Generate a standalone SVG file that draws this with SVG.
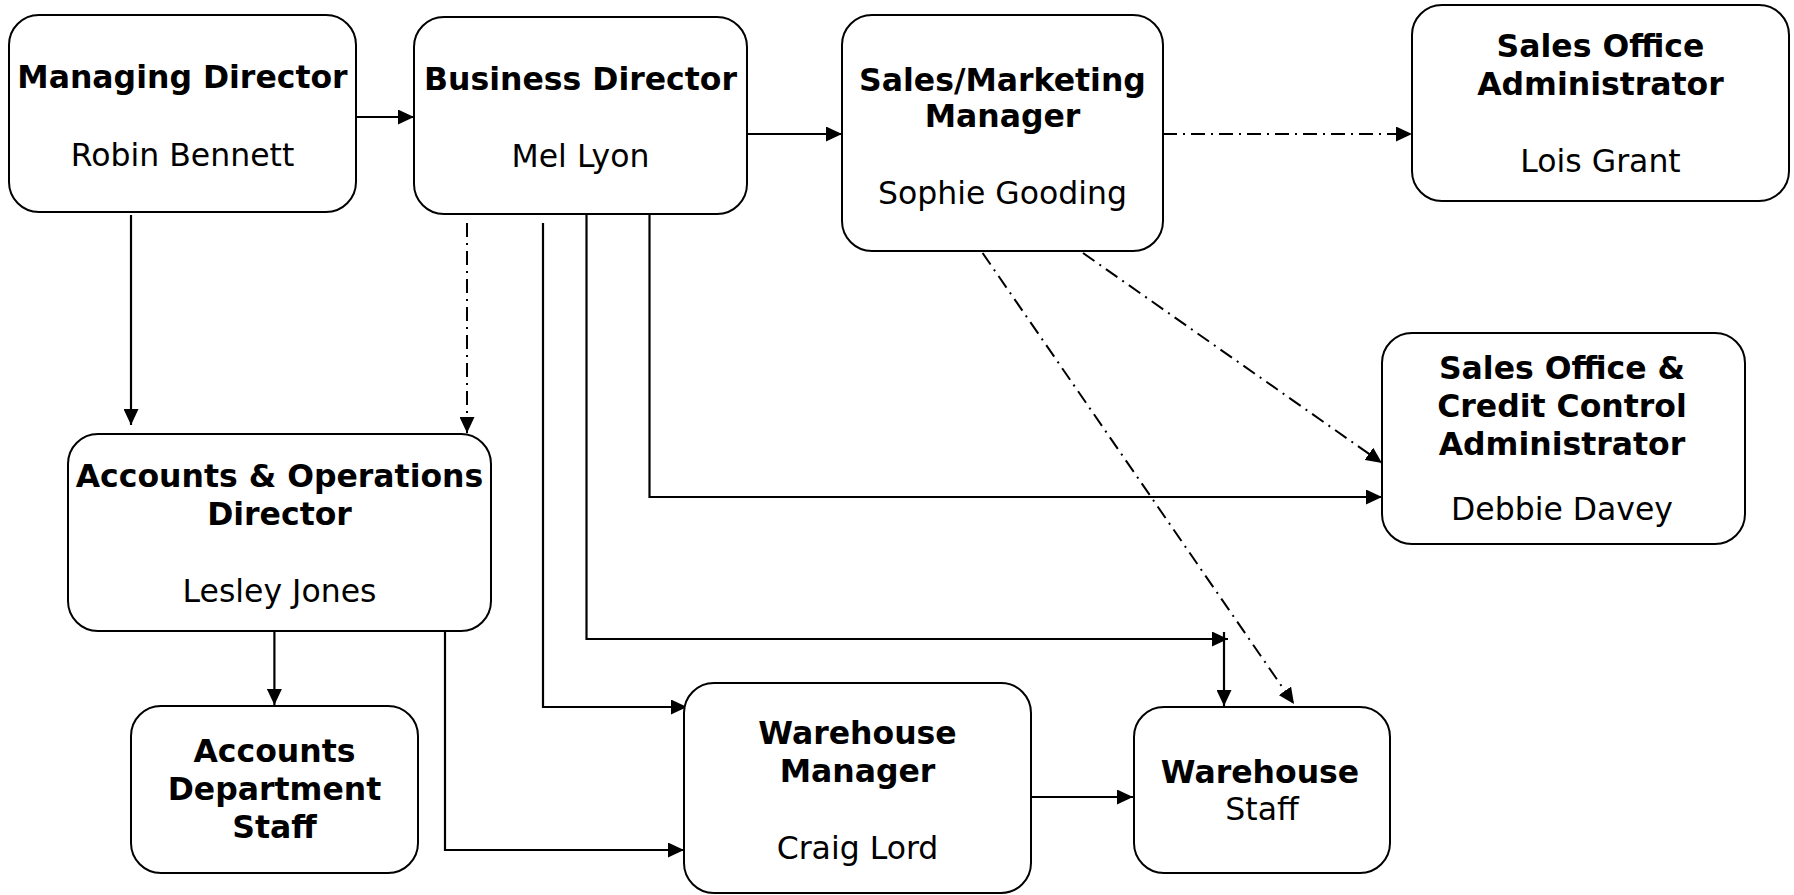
<svg xmlns="http://www.w3.org/2000/svg" width="1794" height="895" viewBox="0 0 1794 895">
<style>
.box{fill:#fff;stroke:#000;stroke-width:2}
.t{font-family:"DejaVu Sans",Verdana,sans-serif;font-size:31.5px;fill:#000;text-anchor:middle}
.b{font-weight:bold}
.c{fill:none;stroke:#000;stroke-width:2.2}
.dd{stroke-dasharray:14 6 2 6;stroke-width:2}
</style>
<defs>
<marker id="ah" markerUnits="userSpaceOnUse" markerWidth="16" markerHeight="15" refX="16" refY="7.5" orient="auto">
<path d="M0,0 L16,7.5 L0,15 z" fill="#000"/>
</marker>
</defs>
<rect width="1794" height="895" fill="#fff"/>
<g id="connectors">
<path class="c" d="M356,117 H414" marker-end="url(#ah)"/>
<path class="c" d="M747,134 H842" marker-end="url(#ah)"/>
<path class="c dd" d="M1163,134 H1412" marker-end="url(#ah)"/>
<path class="c" d="M131,215 V425" marker-end="url(#ah)"/>
<path class="c dd" d="M467,223 V433" marker-end="url(#ah)"/>
<path class="c" d="M543,223 V707 H687" marker-end="url(#ah)"/>
<path class="c" d="M586.5,213 V639 H1228" marker-end="url(#ah)"/>
<path class="c" d="M1224,632 V706" marker-end="url(#ah)"/>
<path class="c" d="M649.5,215 V497 H1382" marker-end="url(#ah)"/>
<path class="c dd" d="M1083,253 L1382,463" marker-end="url(#ah)"/>
<path class="c dd" d="M982.6,253 L1294,704" marker-end="url(#ah)"/>
<path class="c" d="M274.4,631 V705" marker-end="url(#ah)"/>
<path class="c" d="M445,631 V850 H684" marker-end="url(#ah)"/>
<path class="c" d="M1031,797 H1133" marker-end="url(#ah)"/>
</g>
<g id="managing-director">
<rect class="box" x="9" y="15" width="347" height="197" rx="30"/>
<text class="t b" x="182.5" y="88">Managing Director</text>
<text class="t" x="182.5" y="166">Robin Bennett</text>
</g>
<g id="business-director">
<rect class="box" x="414" y="17" width="333" height="197" rx="30"/>
<text class="t b" x="580.5" y="90">Business Director</text>
<text class="t" x="580.5" y="167">Mel Lyon</text>
</g>
<g id="sales-marketing-manager">
<rect class="box" x="842" y="15" width="321" height="236" rx="30"/>
<text class="t b" x="1002.5" y="91">Sales/Marketing</text>
<text class="t b" x="1002.5" y="127">Manager</text>
<text class="t" x="1002.5" y="204">Sophie Gooding</text>
</g>
<g id="sales-office-administrator">
<rect class="box" x="1412" y="5" width="377" height="196" rx="30"/>
<text class="t b" x="1600.5" y="57">Sales Office</text>
<text class="t b" x="1600.5" y="95">Administrator</text>
<text class="t" x="1600.5" y="172">Lois Grant</text>
</g>
<g id="sales-office-credit-control">
<rect class="box" x="1382" y="333" width="363" height="211" rx="30"/>
<text class="t b" x="1562" y="379">Sales Office &amp;</text>
<text class="t b" x="1562" y="417">Credit Control</text>
<text class="t b" x="1562" y="455">Administrator</text>
<text class="t" x="1562" y="520">Debbie Davey</text>
</g>
<g id="accounts-operations-director">
<rect class="box" x="68" y="434" width="423" height="197" rx="30"/>
<text class="t b" x="279.5" y="487">Accounts &amp; Operations</text>
<text class="t b" x="279.5" y="525">Director</text>
<text class="t" x="279.5" y="602">Lesley Jones</text>
</g>
<g id="accounts-department-staff">
<rect class="box" x="131" y="706" width="287" height="167" rx="30"/>
<text class="t b" x="274.5" y="762">Accounts</text>
<text class="t b" x="274.5" y="800">Department</text>
<text class="t b" x="274.5" y="838">Staff</text>
</g>
<g id="warehouse-manager">
<rect class="box" x="684" y="683" width="347" height="210" rx="30"/>
<text class="t b" x="857.5" y="744">Warehouse</text>
<text class="t b" x="857.5" y="782">Manager</text>
<text class="t" x="857.5" y="859">Craig Lord</text>
</g>
<g id="warehouse-staff">
<rect class="box" x="1134" y="707" width="256" height="166" rx="30"/>
<text class="t b" x="1260" y="783">Warehouse</text>
<text class="t" x="1262" y="820">Staff</text>
</g>
</svg>
